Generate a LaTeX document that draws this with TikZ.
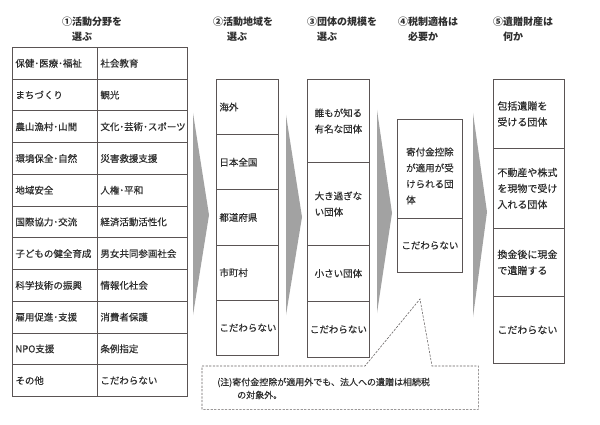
\documentclass[tikz,border=0pt]{standalone}
\usepackage{fontspec}
\setmainfont{Noto Sans CJK JP}[UprightFeatures={FakeBold=0.35}]
\definecolor{txtc}{HTML}{2E2E2E}
\definecolor{bord}{HTML}{5A5454}
\definecolor{arrc}{HTML}{A2A2A2}
\definecolor{notec}{HTML}{666262}
\begin{document}
\begin{tikzpicture}[x=1pt,y=-1pt,
  every node/.style={text=txtc, font=\fontsize{9.5}{16}\selectfont},
  cellL/.style={draw=bord, line width=0.85pt, anchor=north west, align=left, inner xsep=3pt, inner ysep=0pt},
  cellC/.style={draw=bord, line width=0.85pt, anchor=north west, align=left, inner sep=0pt},
  hdr/.style={anchor=west, align=left, inner sep=0pt, font=\fontsize{10}{14.5}\selectfont\bfseries},
  chevron/.style={fill=arrc, draw=none},
  notebox/.style={draw=notec, line width=0.6pt, dash pattern=on 2.2pt off 1.4pt}
]
\fill[white] (0,0) rectangle (600,425);
\useasboundingbox (0,0) rectangle (600,425);

% headers
\node[hdr] (H1) at (62,29) {①活動分野を\\\phantom{①}選ぶ};
\node[hdr] (H2) at (213,29) {②活動地域を\\\hspace{14pt}選ぶ};
\node[hdr] (H3) at (307,29) {③団体の規模を\\\phantom{③}選ぶ};
\node[hdr] (H4) at (398,29) {④税制適格は\\\phantom{④}必要か};
\node[hdr] (H5) at (493,29) {⑤遺贈財産は\\\phantom{⑤}何か};

% column 1 table
\foreach \a/\b [count=\i] in {保健･医療･福祉/社会教育, まちづくり/観光, 農山漁村･山間/文化･芸術･スポーツ, 環境保全･自然/災害救援支援, 地域安全/人権･平和, 国際協力･交流/経済活動活性化, 子どもの健全育成/男女共同参画社会, 科学技術の振興/情報化社会, 雇用促進･支援/消費者保護, NPO支援/条例指定, その他/こだわらない}{
  \node[cellL, text width=79pt, minimum height=31.73pt] (L\i) at (12,{47+(\i-1)*31.727}) {\a};
  \node[cellL, text width=84pt, minimum height=31.73pt] (R\i) at (97,{47+(\i-1)*31.727}) {\b};
}

% column 2
\foreach \t [count=\i] in {海外, 日本全国, 都道府県, 市町村, こだわらない}{
  \node[cellL, text width=56pt, minimum height=55.2pt] (B\i) at (216,{79+(\i-1)*55.2}) {\t};
}

% column 3
\node[cellC, minimum width=62pt, minimum height=83pt] (C1) at (307,79) {誰もが知る\\有名な団体};
\node[cellC, minimum width=62pt, minimum height=83pt] (C2) at (307,162) {大き過ぎな\\い団体};
\node[cellC, minimum width=62pt, minimum height=56pt] (C3) at (307,245) {小さい団体};
\node[cellC, minimum width=62pt, minimum height=56pt] (C4) at (307,301) {こだわらない};

% column 4
\node[cellC, minimum width=65pt, minimum height=99pt] (D1) at (397,119) {};
\node[align=left, inner sep=0pt] (D1t) at ([yshift=-7pt]D1.center) {寄付金控除\\が適用が受\\けられる団\\体};
\node[cellC, minimum width=65pt, minimum height=54pt] (D2) at (397,218) {こだわらない};

% column 5
\node[cellL, inner xsep=4pt, text width=63pt, minimum height=69pt, font=\fontsize{10}{16}\selectfont] (E1) at (493,79) {包括遺贈を\\受ける団体};
\node[cellL, inner xsep=4pt, text width=63pt, minimum height=80pt, font=\fontsize{10}{16}\selectfont] (E2) at (493,148) {不動産や株式\\を現物で受け\\入れる団体};
\node[cellL, inner xsep=4pt, text width=63pt, minimum height=68pt, font=\fontsize{10}{16}\selectfont] (E3) at (493,228) {換金後に現金\\で遺贈する};
\node[cellL, inner xsep=4pt, text width=63pt, minimum height=67pt, font=\fontsize{10}{16}\selectfont] (E4) at (493,296) {こだわらない};

% chevrons
\fill[chevron] (193,113) -- (209,215) -- (193,315) -- cycle;
\fill[chevron] (286,115) -- (302,217) -- (286,315) -- cycle;
\fill[chevron] (377,110) -- (392,213) -- (377,313) -- cycle;
\fill[chevron] (473,113) -- (487,212) -- (473,317) -- cycle;

% note callout
\node[inner sep=0pt, minimum width=276pt, minimum height=43pt, anchor=north west] (N) at (202,366) {};
\coordinate (apex) at (420,299);
\draw[notebox] (N.north west) -- ([xshift=163pt]N.north west) -- (apex) -- ([xshift=230pt]N.north west) -- (N.north east) -- (N.south east) -- (N.south west) -- cycle;
\node[anchor=west, align=left, inner sep=0pt, font=\fontsize{9}{13}\selectfont] (NT) at (217,388.5) {(注)寄付金控除が適用外でも、法人への遺贈は相続税\\\hspace{20pt}の対象外。};
\end{tikzpicture}
\end{document}
